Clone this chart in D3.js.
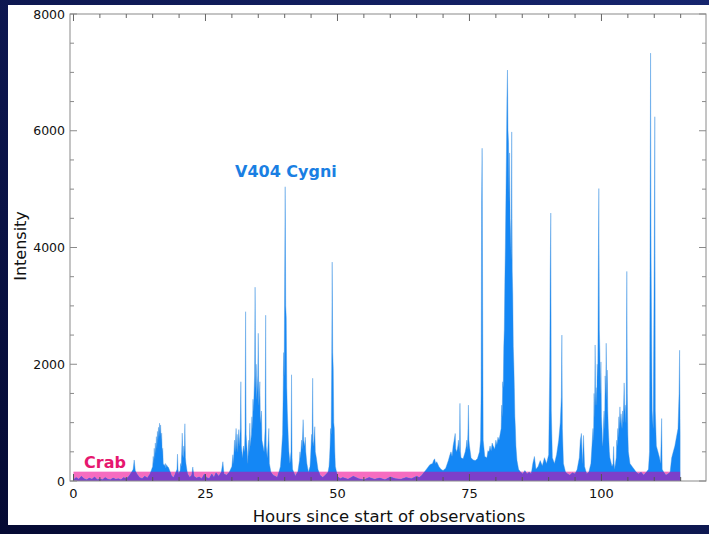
<!DOCTYPE html>
<html>
<head>
<meta charset="utf-8">
<script src="https://cdn.jsdelivr.net/npm/d3@7/dist/d3.min.js"></script>
<style>
  html, body { margin: 0; padding: 0; background: #0a1040; }
  svg { display: block; }
  text { font-family: "DejaVu Sans", "Noto Sans", sans-serif; }
</style>
</head>
<body>
<svg id="chart" width="709" height="534"></svg>
<script>
// Hard X-ray light curve of V404 Cygni: [hours since start, intensity]
const lightCurve = [
  [0,20],[0.5,60],[1,30],[1.5,80],[2,40],[2.5,20],[3,50],[3.5,30],[4,70],[4.5,20],[5,40],[5.5,20],
  [6,60],[6.5,30],[7,20],[7.5,50],[8,30],[8.5,40],[9,20],[9.5,60],[10,40],[10.5,80],
  [11,150],[11.3,200],[11.5,360],[11.7,180],[12,120],[12.5,60],[13,40],[13.5,80],[14,50],[14.5,120],
  [15,250],[15.1,420],[15.2,300],[15.3,560],[15.4,380],[15.5,650],[15.6,480],[15.7,760],[15.8,560],
  [15.9,850],[16,700],[16.1,920],[16.2,760],[16.3,990],[16.4,820],[16.5,960],[16.6,700],[16.7,820],
  [16.8,500],[16.9,560],[17,300],[17.2,260],[17.4,300],[17.5,220],[17.6,280],[17.8,250],[18,230],
  [18.3,160],[18.6,80],[19,60],[19.4,150],[19.6,200],[19.7,460],[19.8,200],[19.9,120],[20.2,180],
  [20.3,300],[20.4,250],[20.5,500],[20.6,820],[20.7,450],[20.8,400],[20.9,600],[21,500],[21.1,980],
  [21.2,400],[21.3,300],[21.6,120],[22,60],[22.4,100],[22.6,240],[22.8,80],[23.3,50],[23.8,70],
  [24.3,40],[24.8,120],[25.2,60],[25.7,40],[26.2,120],[26.6,60],[27,140],[27.5,80],[28,150],
  [28.3,330],[28.5,120],[29,100],[29.5,150],
  [30,250],[30.2,450],[30.3,300],[30.5,700],[30.6,500],[30.8,900],[30.9,550],[31,800],[31.1,500],
  [31.3,880],[31.4,600],[31.6,900],[31.7,1700],[31.8,600],[32,400],[32.2,600],[32.4,500],[32.5,900],
  [32.6,2900],[32.7,800],[32.9,500],[33,300],[33.2,700],[33.3,500],[33.4,990],[33.5,600],[33.7,800],
  [33.8,1100],[33.9,900],[34,1400],[34.1,1200],[34.3,1800],[34.4,3320],[34.5,1600],[34.6,2000],
  [34.7,1400],[34.9,1800],[35,2530],[35.1,1300],[35.3,1700],[35.4,1000],[35.6,1200],[35.7,700],
  [35.9,600],[36.1,500],[36.3,900],[36.4,2840],[36.5,600],[36.7,400],[36.9,700],[37,900],[37.1,300],
  [37.4,150],[37.8,100],[38.2,80],[38.6,60],[38.9,150],[39.2,250],[39.4,500],[39.6,800],[39.7,1400],
  [39.8,2200],[39.9,1800],[40,3500],[40.1,5040],[40.2,3000],[40.3,2800],[40.4,1600],[40.5,1200],
  [40.7,700],[40.8,500],[41,300],[41.2,500],[41.3,1820],[41.4,400],[41.5,200],[42,80],[42.5,160],
  [42.8,350],[42.9,500],[43,400],[43.2,700],[43.3,550],[43.5,1050],[43.6,700],[43.8,600],[43.9,750],
  [44,500],[44.2,300],[44.5,150],[44.8,250],[44.9,400],[45,600],[45.1,800],[45.2,650],[45.3,1760],
  [45.4,700],[45.5,600],[45.7,930],[45.8,500],[46,400],[46.3,200],[46.7,100],[47.2,60],[47.7,100],
  [48.2,150],[48.4,250],[48.5,400],[48.6,600],[48.7,900],[48.8,800],[48.9,1900],[49,3750],[49.1,2200],
  [49.2,1930],[49.3,1000],[49.4,900],[49.5,500],[49.6,250],[50,80],[50.5,40],
  [51,60],[52,30],[53,80],[54,40],[55,20],[56,60],[57,30],[58,50],[59,20],[60,70],[61,40],[62,30],
  [63,60],[64,40],[65,80],[65.5,60],[66,100],
  [66.5,160],[67,220],[67.5,280],[68,300],[68.2,350],[68.4,380],[68.6,300],[68.8,330],[69.2,250],
  [69.6,200],[70,180],[70.5,220],[71,350],[71.3,450],[71.5,500],[71.7,420],[71.9,600],[72.1,700],
  [72.3,815],[72.4,550],[72.6,500],[72.8,600],[72.9,700],[73.1,500],[73.2,1330],[73.3,500],[73.4,400],
  [73.8,380],[74.2,500],[74.4,600],[74.5,700],[74.6,550],[74.7,800],[74.8,1300],[74.9,700],[75,600],
  [75.3,400],[75.7,360],[76.1,350],[76.5,380],[76.9,500],[77.1,700],[77.2,1500],[77.3,4810],
  [77.4,5700],[77.5,3000],[77.6,700],[77.9,420],
  [78.3,400],[78.5,520],[78.7,500],[78.9,600],[79.1,520],[79.3,650],[79.5,600],[79.8,550],[80,700],
  [80.2,620],[80.4,750],[80.6,700],[80.8,800],[81,900],[81.1,1300],[81.2,1100],[81.3,1700],
  [81.4,1600],[81.5,2300],[81.6,2600],[81.7,3400],[81.8,4000],[81.9,4800],[82,5600],[82.1,6560],
  [82.2,7040],[82.3,6000],[82.4,5800],[82.5,4800],[82.6,5620],[82.7,4500],[82.8,4200],[82.9,3800],
  [83,5980],[83.1,3600],[83.2,3200],[83.3,2300],[83.4,2000],[83.5,1600],[83.6,1100],[83.7,900],
  [83.8,600],[84,350],[84.3,200],[84.7,150],[85.1,120],[85.5,180],[85.9,120],[86.3,150],[86.7,120],
  [87,300],[87.3,420],[87.6,200],[88,250],[88.4,350],[88.8,260],[89.2,400],[89.6,300],[90,450],
  [90.2,1900],[90.3,3590],[90.4,4590],[90.5,1200],[90.7,400],[91.1,300],[91.5,450],[91.9,700],
  [92.2,1000],[92.4,1440],[92.5,2500],[92.6,900],[92.8,300],[93.2,150],[93.6,120],[94,100],
  [94.5,140],[95,120],[95.4,200],[95.8,400],[96,700],[96.2,815],[96.4,300],[96.6,780],[96.8,250],
  [97.2,120],[97.6,150],
  [98,300],[98.2,600],[98.4,900],[98.5,700],[98.6,1500],[98.7,1100],[98.8,2330],[98.9,1300],
  [99,1600],[99.1,1300],[99.2,2000],[99.3,1800],[99.4,3500],[99.5,5010],[99.6,2600],[99.7,2200],
  [99.8,1500],[99.9,2040],[100,1100],[100.1,900],[100.2,600],[100.3,700],[100.4,1000],[100.5,1200],
  [100.6,900],[100.7,1800],[100.8,1500],[100.9,2360],[101,1400],[101.1,1900],[101.2,1200],
  [101.3,900],[101.5,500],[101.6,400],[102,250],[102.2,300],[102.3,590],[102.4,300],[102.5,200],
  [102.8,400],[102.9,700],[103,600],[103.1,900],[103.2,750],[103.3,1100],[103.4,900],[103.5,1270],
  [103.6,1000],[103.7,1150],[103.8,1000],[103.9,900],[104,1200],[104.1,1000],[104.2,1300],
  [104.3,1680],[104.4,1200],[104.5,1300],[104.6,1000],[104.7,1400],[104.8,3590],[104.9,1500],
  [105,800],[105.1,500],[105.4,300],[105.8,250],
  [106.2,200],[106.6,150],[107,120],[107.5,150],[108,100],[108.5,150],[108.9,200],[109.1,500],
  [109.2,3900],[109.3,7330],[109.4,3800],[109.6,1200],[109.8,900],[110,3900],[110.1,6240],
  [110.2,1200],[110.4,600],[110.7,500],[111,400],[111.2,300],[111.4,1070],[111.5,200],[111.8,150],
  [112.2,100],[112.6,120],[113,150],[113.3,400],[113.6,500],[113.9,600],[114.2,750],[114.5,900],
  [114.7,1500],[114.8,2240],[114.9,800]
];
const crabLevel = 160;
const crabSpan = [0, 114.9];
const xTickValues = [0, 25, 50, 75, 100];
const yTickValues = [0, 2000, 4000, 6000, 8000];

const svg = d3.select("#chart");
const W = 709, H = 534;

// Frame background and white figure panel
const defs = svg.append("defs");
const grad = defs.append("linearGradient").attr("id", "frame")
  .attr("x1", "0").attr("y1", "1").attr("x2", "1").attr("y2", "0");
grad.append("stop").attr("offset", "0").attr("stop-color", "#050a33");
grad.append("stop").attr("offset", "1").attr("stop-color", "#16256e");
svg.append("rect").attr("width", W).attr("height", H).attr("fill", "url(#frame)");
svg.append("rect").attr("x", 8).attr("y", 5).attr("width", W - 8).attr("height", 520).attr("fill", "#ffffff");

const plot = { left: 70, right: 706, top: 14, bottom: 481 };

const x = d3.scaleLinear().domain([-0.66, 119.8]).range([plot.left, plot.right]);
const y = d3.scaleLinear().domain([0, 8000]).range([plot.bottom, plot.top]);

const data = lightCurve.map(([h, v]) => ({ h, v }));

defs.append("clipPath").attr("id", "plotClip")
  .append("rect").attr("x", plot.left).attr("y", plot.top)
  .attr("width", plot.right - plot.left).attr("height", plot.bottom - plot.top);
defs.append("clipPath").attr("id", "crabClip")
  .append("rect")
  .attr("x", x(crabSpan[0])).attr("y", y(crabLevel))
  .attr("width", x(crabSpan[1]) - x(crabSpan[0]))
  .attr("height", y(0) - y(crabLevel));

const area = d3.area()
  .x(d => x(d.h))
  .y0(y(0))
  .y1(d => y(d.v));

const g = svg.append("g").attr("clip-path", "url(#plotClip)");

// Crab band
g.append("rect")
  .attr("x", x(crabSpan[0])).attr("y", y(crabLevel))
  .attr("width", x(crabSpan[1]) - x(crabSpan[0]))
  .attr("height", y(0) - y(crabLevel))
  .attr("fill", "#f66cc0");

// V404 Cygni light curve
g.append("path").datum(data)
  .attr("d", area)
  .attr("fill", "#1487f5")
  .attr("stroke", "#3a8fe0")
  .attr("stroke-width", 0.4);

// Where the curve sits inside the Crab band the two blend to purple
g.append("path").datum(data)
  .attr("d", area)
  .attr("clip-path", "url(#crabClip)")
  .attr("fill", "#7c3fca");

// Axes
const axisColor = "#8a8a8a";
const minorX = d3.range(0, 120, 5);
const minorY = d3.range(0, 8001, 500);

const frame = svg.append("g");
frame.append("rect")
  .attr("x", plot.left).attr("y", plot.top)
  .attr("width", plot.right - plot.left).attr("height", plot.bottom - plot.top)
  .attr("fill", "none").attr("stroke", axisColor).attr("stroke-width", 1);

const isMajorX = v => v % 25 === 0;
const isMajorY = v => v % 2000 === 0;

// bottom and top ticks (pointing inward)
frame.selectAll(".xb").data(minorX).join("line")
  .attr("x1", d => x(d)).attr("x2", d => x(d))
  .attr("y1", plot.bottom).attr("y2", d => plot.bottom - (isMajorX(d) ? 7 : 4))
  .attr("stroke", "#555").attr("stroke-width", 1);
frame.selectAll(".xt").data(minorX).join("line")
  .attr("x1", d => x(d)).attr("x2", d => x(d))
  .attr("y1", plot.top).attr("y2", d => plot.top + (isMajorX(d) ? 7 : 4))
  .attr("stroke", "#666").attr("stroke-width", 1);
// left and right ticks
frame.selectAll(".yl").data(minorY).join("line")
  .attr("x1", plot.left).attr("x2", d => plot.left + (isMajorY(d) ? 7 : 4))
  .attr("y1", d => y(d)).attr("y2", d => y(d))
  .attr("stroke", axisColor).attr("stroke-width", 1);
frame.selectAll(".yr").data(minorY).join("line")
  .attr("x1", plot.right).attr("x2", d => plot.right - (isMajorY(d) ? 7 : 4))
  .attr("y1", d => y(d)).attr("y2", d => y(d))
  .attr("stroke", axisColor).attr("stroke-width", 1);

// Tick labels
svg.selectAll(".xl").data(xTickValues).join("text")
  .attr("x", d => x(d)).attr("y", 498)
  .attr("text-anchor", "middle")
  .attr("font-size", 13).attr("fill", "#111")
  .text(d => d);
svg.selectAll(".ylab").data(yTickValues).join("text")
  .attr("x", 65).attr("y", d => y(d) + 4.5)
  .attr("text-anchor", "end")
  .attr("font-size", 12.5).attr("fill", "#111")
  .text(d => d);

// Axis titles
svg.append("text")
  .attr("x", 389).attr("y", 522)
  .attr("text-anchor", "middle")
  .attr("font-size", 16.5).attr("fill", "#111")
  .text("Hours since start of observations");
svg.append("text")
  .attr("transform", "translate(26,246) rotate(-90)")
  .attr("text-anchor", "middle")
  .attr("font-size", 16).attr("fill", "#111")
  .text("Intensity");

// Series labels
svg.append("text")
  .attr("x", 235).attr("y", 177)
  .attr("font-size", 16).attr("font-weight", "bold").attr("fill", "#1a7fe3")
  .text("V404 Cygni");
svg.append("text")
  .attr("x", 84).attr("y", 468)
  .attr("font-size", 16).attr("font-weight", "bold").attr("fill", "#e6186f")
  .text("Crab");
</script>
</body>
</html>
